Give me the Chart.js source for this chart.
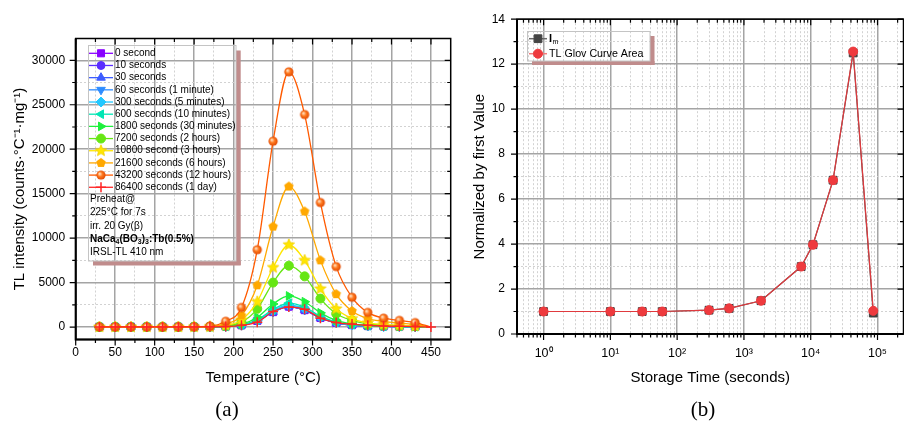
<!DOCTYPE html>
<html>
<head>
<meta charset="utf-8">
<script src="https://cdn.jsdelivr.net/npm/chart.js@4.4.0/dist/chart.umd.min.js"></script>
<style>
    html, body { margin: 0; padding: 0; background: #fff; overflow: hidden; width: 904px; height: 423px; }
    #wrap { position: relative; width: 904px; height: 423px; }
    canvas { position: absolute; top: 0; }
    #tl-glow { left: 0; }
    #tl-norm { left: 425px; }
    .panel-tag { position: absolute; top: 397px; font: 21px "Liberation Serif", "DejaVu Serif", serif; transform: translateX(-50%); color: #000; }
</style>
</head>
<body>
<div id="wrap">
    <canvas id="tl-glow" width="470" height="400"></canvas>
    <canvas id="tl-norm" width="485" height="400"></canvas>
    <div class="panel-tag" style="left:227px;">(a)</div>
    <div class="panel-tag" style="left:703px;">(b)</div>
</div>
<script>
const FONT = '"Liberation Sans", Arial, sans-serif';

// ---- (a) TL glow curves, intensity vs temperature (°C)
const temps = [30, 50, 70, 90, 110, 130, 150, 170, 190, 210, 230, 250, 270, 290, 310, 330, 350, 370, 390, 410, 430, 450];
const tl0s     = [10, 10, 10, 10, 10, 10, 10, 20, 60, 200, 690, 1680, 2300, 1900, 1020, 470, 220, 110, 70, 50, 30, 0];
const tl10s    = [10, 10, 10, 10, 10, 10, 10, 20, 60, 200, 700, 1700, 2310, 1910, 1030, 480, 220, 110, 70, 50, 30, 0];
const tl30s    = [10, 10, 10, 10, 10, 10, 10, 20, 60, 210, 710, 1710, 2320, 1920, 1040, 480, 230, 120, 70, 50, 30, 0];
const tl60s    = [10, 10, 10, 10, 10, 10, 10, 20, 60, 210, 720, 1720, 2340, 1930, 1050, 490, 230, 120, 70, 50, 30, 0];
const tl300s   = [10, 10, 10, 10, 10, 10, 10, 20, 70, 220, 760, 1830, 2480, 2060, 1120, 520, 250, 130, 80, 50, 30, 0];
const tl600s   = [10, 10, 10, 10, 10, 10, 10, 20, 70, 240, 820, 1980, 2690, 2230, 1220, 560, 270, 140, 80, 60, 40, 0];
const tl1800s  = [10, 10, 10, 10, 10, 10, 20, 30, 90, 300, 1100, 2600, 3500, 2850, 1600, 750, 350, 180, 110, 70, 50, 0];
const tl7200s  = [10, 10, 10, 10, 10, 10, 20, 40, 150, 550, 2050, 5000, 6900, 5700, 3200, 1500, 750, 350, 220, 140, 90, 0];
const tl10800s = [10, 10, 10, 10, 10, 10, 20, 50, 200, 800, 2850, 6700, 9250, 7500, 4300, 2050, 950, 470, 300, 200, 120, 0];
const tl21600s = [10, 10, 10, 10, 10, 10, 20, 60, 350, 1300, 4700, 11300, 15800, 13000, 7500, 3700, 1800, 950, 650, 450, 280, 0];
const tl43200s = [20, 20, 20, 20, 20, 30, 40, 100, 650, 2200, 8700, 20900, 28700, 23900, 14000, 6800, 3350, 1650, 1000, 750, 500, 0];
const tl86400s = [10, 10, 10, 10, 10, 10, 10, 20, 60, 200, 550, 1750, 2250, 2000, 1000, 500, 330, 200, 120, 80, 50, 0];
const glowSeries = [tl0s, tl10s, tl30s, tl60s, tl300s, tl600s, tl1800s, tl7200s, tl10800s, tl21600s, tl43200s, tl86400s];
const glowLabels = ['0 second', '10 seconds', '30 seconds', '60 seconds (1 minute)', '300 seconds (5 minutes)',
    '600 seconds (10 minutes)', '1800 seconds (30 minutes)', '7200 seconds (2 hours)', '10800 second (3 hours)',
    '21600 seconds (6 hours)', '43200 seconds (12 hours)', '86400 seconds (1 day)'];
const tempTicks = [0, 25, 50, 75, 100, 125, 150, 175, 200, 225, 250, 275, 300, 325, 350, 375, 400, 425, 450];
const intensityTicks = [0, 2500, 5000, 7500, 10000, 12500, 15000, 17500, 20000, 22500, 25000, 27500, 30000];
const noteLines = ['Preheat@', '225°C for 7s', 'irr. 20 Gy(β)', 'NaCa4(BO3)3:Tb(0.5%)', 'IRSL-TL 410 nm'];

// ---- (b) normalized by first value vs storage time (s)
const storageTimes = [1, 10, 30, 60, 300, 600, 1800, 7200, 10800, 21600, 43200, 86400];
const imNorm   = [1, 1, 1, 1, 1.06, 1.14, 1.48, 3.0, 3.97, 6.84, 12.5, 0.93];
const areaNorm = [1, 1, 1, 1, 1.06, 1.14, 1.48, 3.0, 3.97, 6.84, 12.56, 1.03];
const normTicks = [0, 1, 2, 3, 4, 5, 6, 7, 8, 9, 10, 11, 12, 13, 14];
const normLabels = ['Im', 'TL Glov Curve Area'];

Chart.defaults.font.family = FONT;
Chart.defaults.color = '#000';

// marker images Chart.js has no built-in shape for
function shapeImg(r, draw) {
    const c = document.createElement('canvas');
    const s = Math.ceil(r * 2 + 2);
    c.width = c.height = s;
    draw(c.getContext('2d'), s / 2, r);
    return c;
}
const starImg = shapeImg(6, (g, m, r) => {
    g.beginPath();
    for (let k = 0; k < 10; k++) {
        const rr = k % 2 ? r * 0.45 : r;
        const a = -Math.PI / 2 + k * Math.PI / 5;
        g.lineTo(m + rr * Math.cos(a), m + rr * Math.sin(a));
    }
    g.closePath();
    g.fillStyle = '#ffe600'; g.fill();
    g.strokeStyle = '#f2d000'; g.lineWidth = 0.8; g.stroke();
});
const pentaImg = shapeImg(5, (g, m, r) => {
    g.beginPath();
    for (let k = 0; k < 5; k++) {
        const a = -Math.PI / 2 + k * 2 * Math.PI / 5;
        g.lineTo(m + r * Math.cos(a), m + r * Math.sin(a));
    }
    g.closePath();
    g.fillStyle = '#ffa800'; g.fill();
});
const sphereImg = shapeImg(4.6, (g, m, r) => {
    const grad = g.createRadialGradient(m - 1.5, m - 1.5, 0.5, m, m, r);
    grad.addColorStop(0, '#ffe0c0');
    grad.addColorStop(0.45, '#ff7a20');
    grad.addColorStop(1, '#e04800');
    g.beginPath(); g.arc(m, m, r, 0, Math.PI * 2);
    g.fillStyle = grad; g.fill();
});

const glowStyle = [
    { color: '#8800ff', style: 'rect', r: 5 },
    { color: '#5a2eff', style: 'circle', r: 4 },
    { color: '#3c5cff', style: 'triangle', r: 5 },
    { color: '#2e8cff', style: 'triangle', r: 5, rot: 180 },
    { color: '#22c8ff', style: 'rectRot', r: 5 },
    { color: '#00e6b4', style: 'triangle', r: 5, rot: -90 },
    { color: '#1ef03c', style: 'triangle', r: 5, rot: 90 },
    { color: '#66e614', style: 'circle', r: 4.5 },
    { color: '#ffe600', style: starImg, r: 5 },
    { color: '#ffa800', style: pentaImg, r: 5 },
    { color: '#ff5a00', style: sphereImg, r: 4.5 },
    { color: '#ff2424', style: 'cross', r: 5, bw: 1.5 },
];

function framePlugin(isMajorX, isMajorY) {
    return {
        id: 'frame',
        afterDraw(chart) {
            const { ctx, chartArea: a, scales: { x, y } } = chart;
            ctx.save();
            ctx.strokeStyle = '#000';
            ctx.lineWidth = 1.2;
            ctx.beginPath();
            x.ticks.forEach((t) => {
                const px = x.getPixelForValue(t.value);
                const len = isMajorX(t.value) ? 6 : 3.5;
                ctx.moveTo(px, a.bottom); ctx.lineTo(px, a.bottom + len);
                ctx.moveTo(px, a.top); ctx.lineTo(px, a.top + len);
            });
            y.ticks.forEach((t) => {
                const py = y.getPixelForValue(t.value);
                const len = isMajorY(t.value) ? 6 : 3.5;
                ctx.moveTo(a.left - len, py); ctx.lineTo(a.left, py);
                ctx.moveTo(a.right, py); ctx.lineTo(a.right - len, py);
            });
            ctx.stroke();
            ctx.lineWidth = 1.5;
            ctx.strokeRect(a.left, a.top, a.right - a.left, a.bottom - a.top);
            ctx.lineWidth = 2;
            ctx.beginPath();
            ctx.moveTo(a.left, a.top); ctx.lineTo(a.left, a.bottom); ctx.lineTo(a.right, a.bottom);
            ctx.stroke();
            ctx.restore();
        },
    };
}

function gridOpts(isMajor) {
    return {
        drawTicks: false,
        color: (c) => (c.tick && !isMajor(c.tick.value) ? '#d2d2d2' : '#a4a4a4'),
        lineWidth: (c) => (c.tick && !isMajor(c.tick.value) ? 1 : 1.5),
    };
}
function borderOpts(isMajor) {
    return { display: false, dash: (c) => (c.tick && !isMajor(c.tick.value) ? [2, 2] : []) };
}

// NaCa4(BO3)3:Tb(0.5%) with subscript digits
function drawFormulaLine(ctx, x, y) {
    const parts = [['NaCa', 0], ['4', 1], ['(BO', 0], ['3', 1], [')', 0], ['3', 1], [':Tb(0.5%)', 0]];
    parts.forEach(([s, sub]) => {
        ctx.font = 'bold ' + (sub ? 7 : 10) + 'px ' + FONT;
        ctx.fillText(s, x, sub ? y + 3 : y);
        x += ctx.measureText(s).width;
    });
}

const glowLegend = {
    id: 'glowLegend',
    afterDraw(chart) {
        const ctx = chart.ctx;
        ctx.save();
        ctx.fillStyle = 'rgb(192,140,140)';
        ctx.fillRect(236, 50.5, 4.7, 214.5);
        ctx.fillRect(93, 261, 147.7, 4.5);
        ctx.strokeStyle = '#c4c4c4';
        ctx.lineWidth = 1;
        ctx.strokeRect(88.5, 45.5, 147.5, 215.5);
        ctx.textBaseline = 'middle';
        glowLabels.forEach((label, i) => {
            const st = glowStyle[i];
            const y = 53.3 + i * 12.18;
            ctx.strokeStyle = st.color;
            ctx.fillStyle = st.color;
            ctx.lineWidth = 1.3;
            ctx.beginPath(); ctx.moveTo(89, y); ctx.lineTo(113, y); ctx.stroke();
            ctx.lineWidth = st.bw || 1;
            Chart.helpers.drawPoint(ctx, { pointStyle: st.style, rotation: st.rot || 0, radius: st.r, borderWidth: st.bw || 1 }, 101, y);
            ctx.fillStyle = '#000';
            ctx.font = '10px ' + FONT;
            ctx.fillText(label, 115, y);
        });
        const noteY = [199.3, 212.5, 226, 239.3, 252.7];
        noteLines.forEach((line, i) => {
            ctx.fillStyle = '#000';
            if (line.startsWith('NaCa')) {
                drawFormulaLine(ctx, 90, noteY[i]);
            } else {
                ctx.font = '10px ' + FONT;
                ctx.fillText(line, 90, noteY[i]);
            }
        });
        ctx.restore();
    },
};

const normLegend = {
    id: 'normLegend',
    afterDraw(chart) {
        const ctx = chart.ctx;
        const ox = -425;
        ctx.save();
        ctx.fillStyle = 'rgb(192,140,140)';
        ctx.fillRect(650 + ox, 36, 4.5, 29);
        ctx.fillRect(532 + ox, 61, 122.5, 4);
        ctx.strokeStyle = '#c4c4c4';
        ctx.lineWidth = 1;
        ctx.strokeRect(527.5 + ox, 31.5, 122.5, 29.5);
        ctx.textBaseline = 'middle';
        const rows = [
            { y: 38.7, line: '#6a6a6a', fill: '#444', style: 'rect', r: 5.5 },
            { y: 53.7, line: '#f07c7c', fill: '#ee3a3e', style: 'circle', r: 4.5 },
        ];
        rows.forEach((row, i) => {
            ctx.strokeStyle = row.line; ctx.lineWidth = 1.5;
            ctx.beginPath(); ctx.moveTo(529 + ox, row.y); ctx.lineTo(547 + ox, row.y); ctx.stroke();
            ctx.fillStyle = row.fill; ctx.strokeStyle = row.fill; ctx.lineWidth = 1;
            Chart.helpers.drawPoint(ctx, { pointStyle: row.style, rotation: 0, radius: row.r, borderWidth: 1 }, 538 + ox, row.y);
            ctx.fillStyle = '#000';
            if (i === 0) {
                ctx.font = 'bold 11px ' + FONT;
                ctx.fillText(normLabels[0][0], 549 + ox, row.y);
                const w = ctx.measureText(normLabels[0][0]).width;
                ctx.font = '7px ' + FONT;
                ctx.fillText(normLabels[0].slice(1), 549 + ox + w + 0.5, row.y + 3.5);
            } else {
                ctx.font = '10.7px ' + FONT;
                ctx.fillText(normLabels[1], 549 + ox, row.y);
            }
        });
        ctx.restore();
    },
};

// ---------- chart (a)
const isMajorT = (v) => v % 50 === 0;
const isMajorI = (v) => v % 5000 === 0;
new Chart(document.getElementById('tl-glow'), {
    type: 'line',
    data: {
        datasets: glowSeries.map((vals, i) => ({
            label: glowLabels[i],
            data: temps.map((t, k) => ({ x: t, y: vals[k] })),
            borderColor: glowStyle[i].color,
            backgroundColor: glowStyle[i].color,
            borderWidth: 1.3,
            pointStyle: glowStyle[i].style,
            pointRotation: glowStyle[i].rot || 0,
            pointRadius: (c) => (c.dataIndex === temps.length - 1 && i !== glowSeries.length - 1 ? 0 : glowStyle[i].r),
            pointBorderWidth: glowStyle[i].bw || 1,
            cubicInterpolationMode: 'monotone',
            order: glowSeries.length - i,
        })),
    },
    options: {
        responsive: false,
        animation: false,
        layout: { padding: { top: 38.5, right: 19.3, left: 0, bottom: 0 } },
        plugins: { legend: { display: false }, tooltip: { enabled: false } },
        scales: {
            x: {
                type: 'linear', min: 0, max: 475,
                afterFit: (s) => { s.height = 60.5; },
                afterBuildTicks: (s) => { s.ticks = tempTicks.map((v) => ({ value: v })); },
                grid: gridOpts(isMajorT),
                border: borderOpts(isMajorT),
                ticks: { autoSkip: false, maxRotation: 0, padding: 6, font: { size: 12 }, callback: (v) => (isMajorT(v) ? String(v) : '') },
                title: { display: true, text: 'Temperature (°C)', font: { size: 15 }, padding: { top: 0, bottom: 13 } },
            },
            y: {
                type: 'linear', min: -1400, max: 32450,
                afterFit: (s) => { s.width = 75.7; },
                afterBuildTicks: (s) => { s.ticks = intensityTicks.map((v) => ({ value: v })); },
                grid: gridOpts(isMajorI),
                border: borderOpts(isMajorI),
                ticks: { autoSkip: false, padding: 10.5, font: { size: 12 }, callback: (v) => (isMajorI(v) ? String(v) : '') },
                title: { display: true, text: 'TL intensity (counts·°C⁻¹·mg⁻¹)', font: { size: 15 }, padding: { top: 10.5, bottom: 0 } },
            },
        },
    },
    plugins: [framePlugin(isMajorT, isMajorI), glowLegend],
});

// ---------- chart (b)
const isPow10 = (v) => Math.abs(Math.log10(v) - Math.round(Math.log10(v))) < 1e-6;
const SUP = ['⁰', '¹', '²', '³', '⁴', '⁵', '⁶'];
const logTicks = [];
for (let e = -1; e <= 5; e++) {
    for (let m = 1; m <= 9; m++) {
        const v = Number((m * Math.pow(10, e)).toPrecision(6));
        if (v >= 0.4 && v <= 2.45e5) logTicks.push(v);
    }
}
const isMajorN = (v) => v % 2 === 0;
new Chart(document.getElementById('tl-norm'), {
    type: 'line',
    data: {
        datasets: [
            {
                label: normLabels[0],
                data: storageTimes.map((t, k) => ({ x: t, y: imNorm[k] })),
                borderColor: '#555', backgroundColor: '#404040', pointBorderColor: '#404040',
                borderWidth: 1.2, pointStyle: 'rect', pointRadius: 5.5, pointBorderWidth: 1,
                order: 2,
            },
            {
                label: normLabels[1],
                data: storageTimes.map((t, k) => ({ x: t, y: areaNorm[k] })),
                borderColor: '#e03a3e', backgroundColor: '#ee3a3e', pointBorderColor: '#ee3a3e',
                borderWidth: 1.2, pointStyle: 'circle', pointRadius: 4.5, pointBorderWidth: 1,
                order: 1,
            },
        ],
    },
    options: {
        responsive: false,
        animation: false,
        layout: { padding: { top: 17.3, right: 3, left: 0, bottom: 0 } },
        plugins: { legend: { display: false }, tooltip: { enabled: false } },
        scales: {
            x: {
                type: 'logarithmic', min: 0.4, max: 2.45e5,
                afterFit: (s) => { s.height = 66; },
                afterBuildTicks: (s) => { s.ticks = logTicks.map((v) => ({ value: v })); },
                grid: gridOpts(isPow10),
                border: borderOpts(isPow10),
                ticks: {
                    autoSkip: false, maxRotation: 0, padding: 12, font: { size: 12.5 },
                    callback: (v) => (isPow10(v) ? '10' + SUP[Math.round(Math.log10(v))] : ''),
                },
                title: { display: true, text: 'Storage Time (seconds)', font: { size: 15 }, padding: { top: 0, bottom: 13 } },
            },
            y: {
                type: 'linear', min: 0, max: 14,
                afterFit: (s) => { s.width = 92; },
                afterBuildTicks: (s) => { s.ticks = normTicks.map((v) => ({ value: v })); },
                grid: gridOpts(isMajorN),
                border: borderOpts(isMajorN),
                ticks: { autoSkip: false, padding: 12, font: { size: 12 }, callback: (v) => (isMajorN(v) ? String(v) : '') },
                title: { display: true, text: 'Normalized by first Value', font: { size: 15 }, padding: { top: 46, bottom: 0 } },
            },
        },
    },
    plugins: [framePlugin(isPow10, isMajorN), normLegend],
});
</script>
</body>
</html>
